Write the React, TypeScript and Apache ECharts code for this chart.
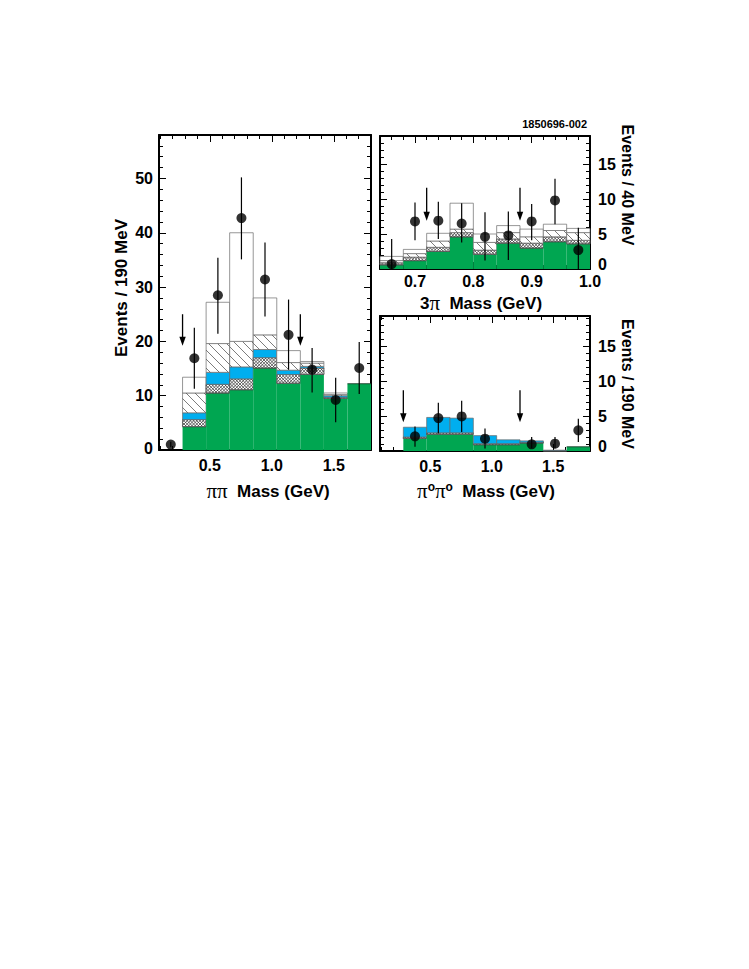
import React, { useEffect, useRef } from "react";
import * as echarts from "echarts";

// ---------- ππ panel (left) ----------
const ppEdges = [0.28, 0.47, 0.66, 0.85, 1.04, 1.23, 1.42, 1.61, 1.8];
const ppGreen = [4.3, 10.5, 11.1, 15.1, 12.3, 13.9, 9.5, 12.2];
const ppCross = [5.6, 12.1, 13.1, 17.0, 13.9, 15.1, 9.7, 12.2];
const ppBlue = [6.85, 14.3, 15.3, 18.5, 14.7, 15.4, 10.0, 12.2];
const ppHatch = [10.5, 19.6, 20.0, 21.2, 16.1, 16.0, 10.2, 12.2];
const ppTotal = [13.4, 27.2, 40.0, 28.0, 18.3, 16.3, 10.5, 12.2];
const ppMass = [0.185, 0.375, 0.565, 0.755, 0.945, 1.135, 1.325, 1.515, 1.705];
const ppEvents = [1.0, 16.9, 28.5, 42.7, 31.4, 21.2, 14.8, 9.2, 15.1];
const ppErrLow = [0.5, 11.3, 21.4, 35.1, 24.6, 14.8, 10.6, 5.1, 10.3];
const ppErrHigh = [1.5, 22.5, 35.4, 50.2, 38.2, 27.7, 18.8, 13.3, 19.9];
const ppArrowX = [0.28, 1.23];
const ppArrowFrom = 25.0;
const ppArrowTo = 19.2;
const ppXTicks = [0.5, 1.0, 1.5];
const ppYTicks = [0, 10, 20, 30, 40, 50];

// ---------- 3π panel (top right) ----------
const tpEdges = [0.64, 0.68, 0.72, 0.76, 0.8, 0.84, 0.88, 0.92, 0.96, 1.0];
const tpGreen = [0.6, 1.2, 2.5, 4.6, 2.1, 3.7, 3.0, 3.9, 3.6];
const tpCross = [0.9, 1.7, 3.1, 5.2, 2.7, 4.3, 3.7, 4.6, 4.1];
const tpHatch = [1.2, 2.2, 4.0, 5.7, 3.8, 5.2, 4.6, 5.5, 5.2];
const tpTotal = [1.8, 2.8, 5.1, 9.4, 5.0, 6.2, 5.7, 6.4, 5.8];
const tpMass = [0.66, 0.7, 0.74, 0.78, 0.82, 0.86, 0.9, 0.94, 0.98];
const tpEvents = [0.7, 6.8, 6.9, 6.5, 4.6, 4.8, 6.8, 9.8, 2.7];
const tpErrLow = [0.0, 4.1, 4.3, 3.8, 1.2, 1.3, 4.1, 6.4, 0.0];
const tpErrHigh = [4.3, 9.5, 9.6, 9.4, 8.1, 8.2, 9.3, 12.9, 5.9];
const tpArrowX = [0.72, 0.88];
const tpArrowFrom = 11.6;
const tpArrowTo = 6.9;
const tpXTicks = [0.7, 0.8, 0.9, 1.0];
const tpYTicks = [0, 5, 10, 15];

// ---------- π0π0 panel (bottom right) ----------
const npEdges = [0.28, 0.47, 0.66, 0.85, 1.04, 1.23, 1.42, 1.61, 1.8];
const npGreen = [1.8, 2.4, 2.4, 0.9, 0.9, 1.15, 0.0, 0.6];
const npCross = [2.0, 2.6, 2.6, 1.05, 1.05, 1.25, 0.05, 0.6];
const npBlue = [3.4, 4.8, 4.7, 2.2, 1.6, 1.45, 0.12, 0.6];
const npMass = [0.375, 0.565, 0.755, 0.945, 1.325, 1.515, 1.705];
const npEvents = [2.1, 4.7, 4.95, 1.76, 0.95, 1.05, 2.96];
const npErrLow = [0.6, 2.5, 2.7, 0.35, 0.4, 0.4, 1.3];
const npErrHigh = [3.5, 6.9, 7.2, 3.2, 2.0, 2.0, 4.6];
const npArrowX = [0.28, 1.23];
const npArrowFrom = 8.7;
const npArrowTo = 4.1;
const npXTicks = [0.5, 1.0, 1.5];
const npYTicks = [0, 5, 10, 15];

const steps = (a: number, b: number, s: number) => {
  const out: number[] = [];
  const n = Math.round((b - a) / s);
  for (let i = 0; i <= n; i++) out.push(+(a + i * s).toFixed(4));
  return out;
};

const FONT = "'Liberation Sans', Arial, Helvetica, sans-serif";
const GREEN = "#00a651";
const BLUE = "#00aeef";

type Kind = "green" | "cross" | "blue" | "hatch" | "white";

function hatchLines(
  x0: number, y0: number, x1: number, y1: number,
  s: number, dir: number, stroke: string, lw: number
) {
  const out: any[] = [];
  if (dir === 1) {
    const cMin = y0 - x1, cMax = y1 - x0;
    for (let k = Math.ceil(cMin / s); k * s <= cMax; k++) {
      const c = k * s;
      const xa = Math.max(x0, y0 - c), xb = Math.min(x1, y1 - c);
      if (xb - xa > 0.2)
        out.push({ type: "line", silent: true, shape: { x1: xa, y1: xa + c, x2: xb, y2: xb + c }, style: { stroke, lineWidth: lw } });
    }
  } else {
    const cMin = x0 + y0, cMax = x1 + y1;
    for (let k = Math.ceil(cMin / s); k * s <= cMax; k++) {
      const c = k * s;
      const xa = Math.max(x0, c - y1), xb = Math.min(x1, c - y0);
      if (xb - xa > 0.2)
        out.push({ type: "line", silent: true, shape: { x1: xa, y1: c - xa, x2: xb, y2: c - xb }, style: { stroke, lineWidth: lw } });
    }
  }
  return out;
}

function histSeries(g: number, edges: number[], layers: number[][], kinds: Kind[]) {
  const data = edges.slice(0, -1).map((e, i) => [e, edges[i + 1], ...layers.map((l) => l[i])]);
  return {
    type: "custom",
    xAxisIndex: 4 * g,
    yAxisIndex: 4 * g,
    z: 2,
    silent: true,
    encode: { x: [0, 1], y: layers.map((_, k) => 2 + k) },
    data,
    renderItem: (params: any, api: any) => {
      const x0 = api.value(0), x1 = api.value(1);
      let prev = 0;
      const children: any[] = [];
      kinds.forEach((kind, k) => {
        const top = api.value(2 + k);
        if (top <= prev + 1e-6) return;
        const p0 = api.coord([x0, top]);
        const p1 = api.coord([x1, prev]);
        const rx = p0[0], ry = p0[1], rw = p1[0] - p0[0], rh = p1[1] - p0[1];
        if (kind === "green") {
          children.push({ type: "rect", silent: true, shape: { x: rx, y: ry, width: rw, height: rh }, style: { fill: GREEN, stroke: null, lineWidth: 0 } });
          children.push({ type: "line", silent: true, shape: { x1: rx, y1: ry, x2: rx + rw, y2: ry }, style: { stroke: "#1b3d2a", lineWidth: 0.9 } });
        } else {
          const fill = kind === "blue" ? BLUE : "#ffffff";
          children.push({
            type: "rect", silent: true,
            shape: { x: rx, y: ry, width: rw, height: rh },
            style: { fill, stroke: "#6a6a6a", lineWidth: 0.7 },
          });
        }
        if (kind === "cross") {
          children.push(...hatchLines(rx, ry, rx + rw, ry + rh, 3.2, 1, "#3a3a3a", 0.75));
          children.push(...hatchLines(rx, ry, rx + rw, ry + rh, 3.2, -1, "#3a3a3a", 0.75));
          children.push({ type: "rect", silent: true, shape: { x: rx, y: ry, width: rw, height: rh }, style: { fill: "none", stroke: "#555", lineWidth: 0.6 } });
        }
        if (kind === "hatch") {
          children.push(...hatchLines(rx, ry, rx + rw, ry + rh, 9, 1, "#444", 0.7));
        }
        prev = top;
      });
      return { type: "group", children };
    },
  };
}

function errSeries(g: number, xs: number[], lo: number[], hi: number[]) {
  return {
    type: "custom",
    xAxisIndex: 4 * g,
    yAxisIndex: 4 * g,
    z: 3,
    silent: true,
    encode: { x: 0, y: [1, 2] },
    data: xs.map((x, i) => [x, lo[i], hi[i]]),
    renderItem: (params: any, api: any) => {
      const a = api.coord([api.value(0), api.value(1)]);
      const b = api.coord([api.value(0), api.value(2)]);
      return { type: "line", shape: { x1: a[0], y1: a[1], x2: b[0], y2: b[1] }, style: { stroke: "#000", lineWidth: 1.2 } };
    },
  };
}

function pointSeries(g: number, xs: number[], ys: number[]) {
  return {
    type: "scatter",
    xAxisIndex: 4 * g,
    yAxisIndex: 4 * g,
    z: 4,
    silent: true,
    symbol: "circle",
    symbolSize: 10,
    itemStyle: { color: "#000" },
    data: xs.map((x, i) => [x, ys[i]]),
  };
}

function arrowSeries(g: number, xs: number[], from: number, to: number) {
  return {
    type: "custom",
    xAxisIndex: 4 * g,
    yAxisIndex: 4 * g,
    z: 4,
    silent: true,
    encode: { x: 0, y: [1, 2] },
    data: xs.map((x) => [x, from, to]),
    renderItem: (params: any, api: any) => {
      const a = api.coord([api.value(0), api.value(1)]);
      const b = api.coord([api.value(0), api.value(2)]);
      const hl = 9, hw = 3.2;
      return {
        type: "group",
        children: [
          { type: "line", shape: { x1: a[0], y1: a[1], x2: b[0], y2: b[1] - hl + 1 }, style: { stroke: "#000", lineWidth: 1.3 } },
          { type: "polygon", shape: { points: [[b[0] - hw, b[1] - hl], [b[0] + hw, b[1] - hl], [b[0], b[1]]] }, style: { fill: "#000" } },
        ],
      };
    },
  };
}

const LABEL = { fontFamily: FONT, fontWeight: "bold", fontSize: 16, color: "#000" };

function panelAxes(
  g: number, xr: number[], xMaj: number[], xMin: number[],
  yr: number[], yMaj: number[], yMin: number[], ySide: "left" | "right", xMargin: number, zeroLift: number
) {
  const line = { show: true, onZero: false, lineStyle: { color: "#000", width: 2 } };
  const noLine = { show: false, onZero: false };
  const tickMaj = (vals: number[]) => ({ show: true, inside: true, length: 7, customValues: vals, lineStyle: { color: "#000", width: 1 } });
  const tickMin = (vals: number[]) => ({ show: true, inside: true, length: 4, customValues: vals, lineStyle: { color: "#000", width: 1 } });
  const common = { type: "value", gridIndex: g, splitLine: { show: false }, axisPointer: { show: false } };
  const xCommon = { ...common, min: xr[0], max: xr[1] };
  const yCommon = { ...common, min: yr[0], max: yr[1] };
  const other = ySide === "left" ? "right" : "left";
  const xAxes = [
    { ...xCommon, position: "bottom", axisLine: line, axisTick: tickMaj(xMaj), axisLabel: { ...LABEL, show: true, customValues: xMaj, margin: xMargin, formatter: (v: number) => v.toFixed(1) } },
    { ...xCommon, position: "bottom", axisLine: noLine, axisTick: tickMin(xMin), axisLabel: { show: false } },
    { ...xCommon, position: "top", axisLine: line, axisTick: tickMaj(xMaj), axisLabel: { show: false } },
    { ...xCommon, position: "top", axisLine: noLine, axisTick: tickMin(xMin), axisLabel: { show: false } },
  ];
  const yAxes = [
    {
      ...yCommon, position: ySide, axisLine: line, axisTick: tickMaj(yMaj),
      axisLabel: {
        ...LABEL, show: true, customValues: yMaj, margin: ySide === "left" ? 6 : 8,
        formatter: (v: number) => (v === 0 ? "{z|0}" : String(v)),
        rich: { z: { ...LABEL, padding: [0, 0, zeroLift, 0] } },
      },
    },
    { ...yCommon, position: ySide, axisLine: noLine, axisTick: tickMin(yMin), axisLabel: { show: false } },
    { ...yCommon, position: other, axisLine: line, axisTick: tickMaj(yMaj), axisLabel: { show: false } },
    { ...yCommon, position: other, axisLine: noLine, axisTick: tickMin(yMin), axisLabel: { show: false } },
  ];
  return { xAxes, yAxes };
}

export default function App() {
  const ref = useRef<HTMLDivElement>(null);
  useEffect(() => {
    if (!ref.current) return;
    const chart = echarts.init(ref.current, null, { renderer: "svg" });

    const a0 = panelAxes(0, [0.09, 1.8], ppXTicks, steps(0.1, 1.8, 0.1), [0, 58], ppYTicks, steps(0, 58, 2), "left", 7, 4);
    const a1 = panelAxes(1, [0.64, 1.0], tpXTicks, steps(0.64, 1.0, 0.02), [0, 19], tpYTicks, steps(0, 19, 1), "right", 4, 10);
    const a2 = panelAxes(2, [0.09, 1.8], npXTicks, steps(0.1, 1.8, 0.1), [0, 19.3], npYTicks, steps(0, 19, 1), "right", 7, 10);

    const piRich = {
      g: { fontFamily: "'Liberation Serif', 'Times New Roman', serif", fontStyle: "normal", fontWeight: "normal", fontSize: 21, fill: "#000" },
      s: { fontFamily: FONT, fontWeight: "bold", fontSize: 12, verticalAlign: "top", fill: "#000" },
    };
    const titleStyle = { fontFamily: FONT, fontWeight: "bold", fontSize: 17, fill: "#000", align: "center", verticalAlign: "middle", rich: piRich };

    const option: any = {
      animation: false,
      backgroundColor: "#ffffff",
      grid: [
        { left: 159, top: 135, width: 212, height: 315 },
        { left: 380, top: 136, width: 210, height: 133 },
        { left: 380, top: 316, width: 210, height: 135 },
      ],
      xAxis: [...a0.xAxes, ...a1.xAxes, ...a2.xAxes],
      yAxis: [...a0.yAxes, ...a1.yAxes, ...a2.yAxes],
      series: [
        histSeries(0, ppEdges, [ppGreen, ppCross, ppBlue, ppHatch, ppTotal], ["green", "cross", "blue", "hatch", "white"]),
        errSeries(0, ppMass, ppErrLow, ppErrHigh),
        pointSeries(0, ppMass, ppEvents),
        arrowSeries(0, ppArrowX, ppArrowFrom, ppArrowTo),
        histSeries(1, tpEdges, [tpGreen, tpCross, tpHatch, tpTotal], ["green", "cross", "hatch", "white"]),
        errSeries(1, tpMass, tpErrLow, tpErrHigh),
        pointSeries(1, tpMass, tpEvents),
        arrowSeries(1, tpArrowX, tpArrowFrom, tpArrowTo),
        histSeries(2, npEdges, [npGreen, npCross, npBlue], ["green", "cross", "blue"]),
        errSeries(2, npMass, npErrLow, npErrHigh),
        pointSeries(2, npMass, npEvents),
        arrowSeries(2, npArrowX, npArrowFrom, npArrowTo),
      ],
      graphic: [
        { type: "text", x: 587, y: 124, style: { text: "1850696-002", fontFamily: FONT, fontWeight: "bold", fontSize: 11, fill: "#000", align: "right", verticalAlign: "middle" } },
        { type: "text", x: 121, y: 288, rotation: Math.PI / 2, style: { text: "Events / 190 MeV", fontFamily: FONT, fontWeight: "bold", fontSize: 17, fill: "#000", align: "center", verticalAlign: "middle" } },
        { type: "text", x: 627, y: 185, rotation: -Math.PI / 2, style: { text: "Events / 40 MeV", fontFamily: FONT, fontWeight: "bold", fontSize: 16, fill: "#000", align: "center", verticalAlign: "middle" } },
        { type: "text", x: 627, y: 384, rotation: -Math.PI / 2, style: { text: "Events / 190 MeV", fontFamily: FONT, fontWeight: "bold", fontSize: 16, fill: "#000", align: "center", verticalAlign: "middle" } },
        { type: "text", x: 268, y: 491, style: { ...titleStyle, text: "{g|ππ}  Mass (GeV)" } },
        { type: "text", x: 481, y: 303, style: { ...titleStyle, text: "3{g|π}  Mass (GeV)" } },
        { type: "text", x: 486, y: 491, style: { ...titleStyle, text: "{g|π}{s|o}{g|π}{s|o}  Mass (GeV)" } },
      ],
    };
    chart.setOption(option);
    return () => chart.dispose();
  }, []);
  return (
    <div
      ref={ref}
      style={{ position: "absolute", left: 0, top: 0, width: 749, height: 969, background: "#fff" }}
    />
  );
}
